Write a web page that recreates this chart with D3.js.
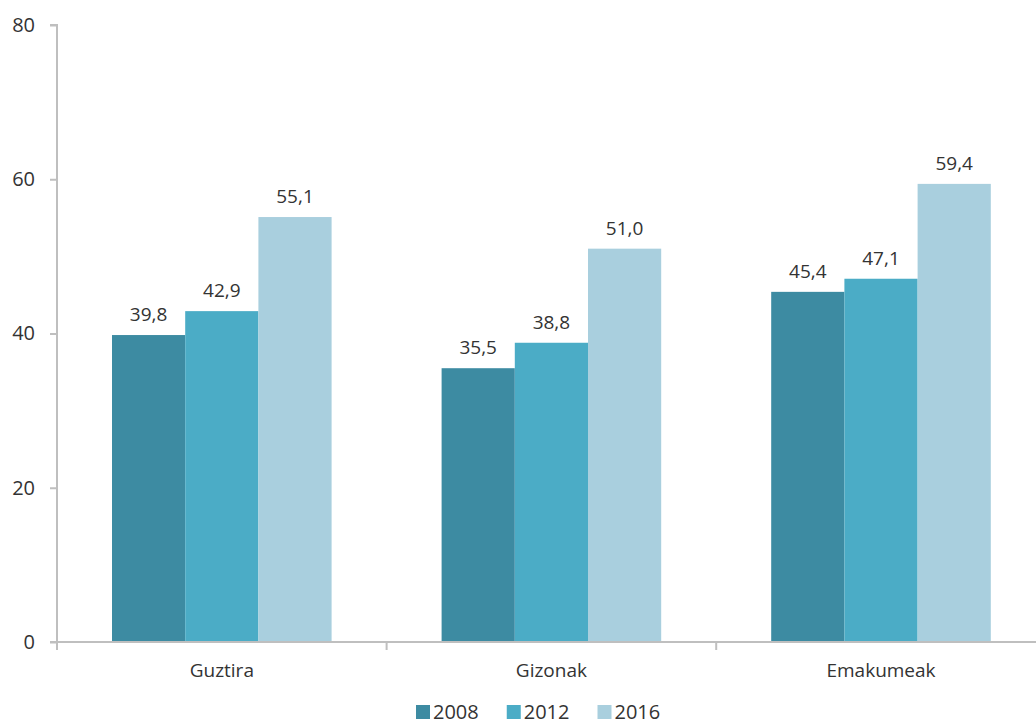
<!DOCTYPE html>
<html><head><meta charset="utf-8">
<script src="https://cdn.jsdelivr.net/npm/d3@7"></script>
<style>
body{margin:0;background:#fff;}
text{font-family:"Open Sans",sans-serif;fill:#333;}
</style></head>
<body><svg id="c" width="1036" height="726"></svg>
<script>
const categories = ["Guztira","Gizonak","Emakumeak"];
const years = ["2008","2012","2016"];
const v2008 = [39.8, 35.5, 45.4];
const v2012 = [42.9, 38.8, 47.1];
const v2016 = [55.1, 51.0, 59.4];
const yTicks = [0,20,40,60,80];
const colors = ["#3D8BA2","#4BACC6","#A9CFDE"];

const series = [v2008, v2012, v2016];
const svg = d3.select("#c");
const x0 = 57, x1 = 1045.8, yTop = 25, yBot = 642;
const x = d3.scaleBand().domain(categories).range([x0, x1]).paddingInner(0).paddingOuter(0);
const xs = d3.scaleBand().domain(years).range([55, x.bandwidth()-55]).padding(0);
const y = d3.scaleLinear().domain([0,80]).range([yBot, yTop]);
const axisColor = "#BFBFBF";
const fmt = v => v.toFixed(1).replace(".", ",");

// bars
categories.forEach((c, ci) => {
  const g = svg.append("g").attr("transform", `translate(${x(c)},0)`);
  years.forEach((yr, si) => {
    const v = series[si][ci];
    g.append("rect").attr("x", xs(yr)).attr("width", xs.bandwidth())
      .attr("y", y(v)).attr("height", y(0)-y(v)).attr("fill", colors[si]);
    g.append("text").attr("x", xs(yr)+xs.bandwidth()/2).attr("y", y(v)-14)
      .attr("text-anchor","middle").attr("font-size", 19).text(fmt(v));
  });
});

// y axis
const ya = svg.append("g").attr("transform", `translate(${x0},0)`)
  .call(d3.axisLeft(y).tickValues(yTicks).tickSize(7).tickPadding(15).tickFormat(d3.format("d")));
ya.select(".domain").attr("stroke", axisColor).attr("stroke-width", 2).attr("d", `M-7,${yTop}H0V${yBot}`);
ya.selectAll(".tick line").attr("stroke", axisColor).attr("stroke-width", 2);
ya.selectAll(".tick text").attr("font-size", 20).attr("fill", "#333");

// x axis
const xa = svg.append("g").attr("transform", `translate(0,${yBot})`)
  .call(d3.axisBottom(x).tickSize(0).tickPadding(22));
xa.select(".domain").attr("stroke", axisColor).attr("stroke-width", 2).attr("d", `M${x0-7},0H${x1}`);
xa.selectAll(".tick text").attr("font-size", 19).attr("fill", "#333");
const bounds = [x0, ...categories.map(c => x(c)+x.bandwidth())];
xa.selectAll(".sep").data(bounds).enter().append("line")
  .attr("x1", d=>d).attr("x2", d=>d).attr("y1", 0).attr("y2", 8)
  .attr("stroke", axisColor).attr("stroke-width", 2);

// legend
const leg = svg.append("g").attr("transform", "translate(416,705)");
let lx = 0;
years.forEach((yr, i) => {
  leg.append("rect").attr("x", lx).attr("y", 0).attr("width", 14).attr("height", 14).attr("fill", colors[i]);
  const t = leg.append("text").attr("x", lx+17).attr("y", 14).attr("font-size", 20).text(yr);
  lx += 17 + t.node().getComputedTextLength() + 28;
});
</script></body></html>
